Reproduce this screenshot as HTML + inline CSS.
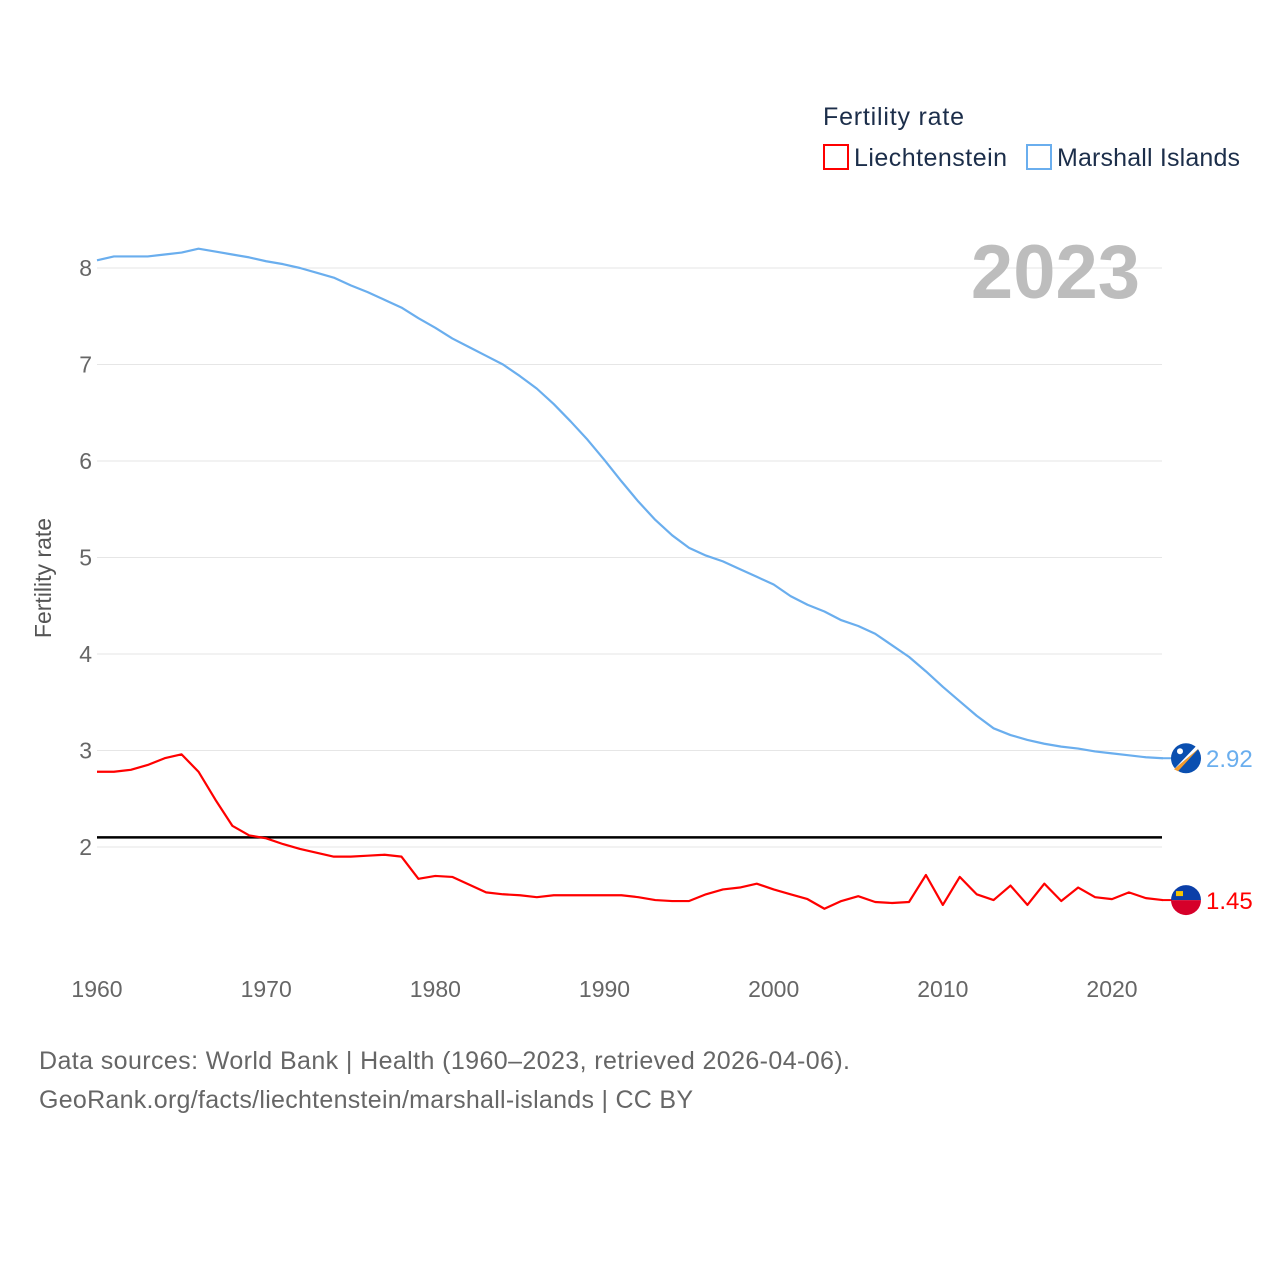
<!DOCTYPE html>
<html><head><meta charset="utf-8"><style>
body{margin:0;background:#fff;width:1280px;height:1280px;overflow:hidden;font-family:"Liberation Sans",sans-serif}
</style></head><body>
<svg id="chart" width="1280" height="1280" xmlns="http://www.w3.org/2000/svg">
<g id="grid"></g>
<g id="yticks"></g>
<g id="xticks"></g>
<text transform="translate(51,578) rotate(-90)" text-anchor="middle" font-size="23" fill="#555">Fertility rate</text>
<text x="1140" y="298" text-anchor="end" font-size="76" font-weight="bold" fill="#bdbdbd">2023</text>
<g>
<text x="823" y="125" font-size="25" fill="#1c2e4a" textLength="141">Fertility rate</text>
<rect x="824" y="145" width="24" height="24" fill="none" stroke="#f00" stroke-width="2"/>
<text x="854" y="166" font-size="25" fill="#1c2e4a" textLength="153">Liechtenstein</text>
<rect x="1027" y="145" width="24" height="24" fill="none" stroke="#6aaeee" stroke-width="2"/>
<text x="1057" y="166" font-size="25" fill="#1c2e4a" textLength="183">Marshall Islands</text>
</g>
<g id="series"></g>
<text x="39" y="1069" font-size="25" fill="#666" textLength="811">Data sources: World Bank | Health (1960–2023, retrieved 2026-04-06).</text>
<text x="39" y="1108" font-size="25" fill="#666" textLength="654">GeoRank.org/facts/liechtenstein/marshall-islands | CC BY</text>
</svg>
<script>
const years=[];for(let y=1960;y<=2023;y++)years.push(y);
const liechtenstein=[2.78,2.78,2.80,2.85,2.92,2.96,2.78,2.49,2.22,2.12,2.09,2.03,1.98,1.94,1.90,1.90,1.91,1.92,1.90,1.67,1.70,1.69,1.61,1.53,1.51,1.50,1.48,1.50,1.50,1.50,1.50,1.50,1.48,1.45,1.44,1.44,1.51,1.56,1.58,1.62,1.56,1.51,1.46,1.36,1.44,1.49,1.43,1.42,1.43,1.71,1.40,1.69,1.51,1.45,1.60,1.40,1.62,1.44,1.58,1.48,1.46,1.53,1.47,1.45];
const marshall=[8.08,8.12,8.12,8.12,8.14,8.16,8.20,8.17,8.14,8.11,8.07,8.04,8.00,7.95,7.90,7.82,7.75,7.67,7.59,7.48,7.38,7.27,7.18,7.09,7.00,6.88,6.75,6.59,6.41,6.22,6.01,5.79,5.58,5.39,5.23,5.10,5.02,4.96,4.88,4.80,4.72,4.60,4.51,4.44,4.35,4.29,4.21,4.09,3.97,3.82,3.66,3.51,3.36,3.23,3.16,3.11,3.07,3.04,3.02,2.99,2.97,2.95,2.93,2.92];
const yTicks=[2,3,4,5,6,7,8];
const xTicks=[1960,1970,1980,1990,2000,2010,2020];
const replacementRate=2.1;
const NS="http://www.w3.org/2000/svg";
const X=y=>97+(y-1960)*(1112-97)/60;
const Y=v=>847-(v-2)*96.5;
function mk(tag,attrs,parent){const e=document.createElementNS(NS,tag);for(const k in attrs)e.setAttribute(k,attrs[k]);parent.appendChild(e);return e;}
const grid=document.getElementById('grid'),yt=document.getElementById('yticks'),xt=document.getElementById('xticks'),ser=document.getElementById('series');
yTicks.forEach(v=>{
 const l=mk('line',{x1:97,x2:1162,y1:Y(v),y2:Y(v),stroke:'#e6e6e6','stroke-width':1},grid);
 
 
 const t=mk('text',{x:92,y:Y(v)+8,'text-anchor':'end','font-size':23,fill:'#666'},yt);t.textContent=v;
 
 
});
xTicks.forEach(v=>{
 const t=mk('text',{x:X(v),y:997,'text-anchor':'middle','font-size':23,fill:'#666'},xt);t.textContent=v;
 
 
});
const rl=mk('line',{x1:97,x2:1162,y1:Y(replacementRate),y2:Y(replacementRate),stroke:'#000','stroke-width':2.5},ser);


function line(vals,color,name){
 const p=mk('polyline',{points:vals.map((v,i)=>X(years[i])+','+Y(v)).join(' '),fill:'none',stroke:color,'stroke-width':2.2,'stroke-linejoin':'round'},ser);
 
 
}
line(marshall,'#6aaeee','line-marshall-islands');
line(liechtenstein,'#f00','line-liechtenstein');
function endLabel(vals,color,name,flag){
 const v=vals[vals.length-1],y=Y(v);
 const g=mk('g',{},ser);
 
 
 mk('line',{x1:1162,x2:1172,y1:y,y2:y,stroke:color,'stroke-width':2},g);
 if(flag==='mh'){
  mk('circle',{cx:1186,cy:y,r:15,fill:'#0a4fb0'},g);
  mk('polygon',{points:(1174)+','+(y+11)+' '+(1199)+','+(y-10)+' '+(1178)+','+(y+13),fill:'#f49a2a'},g);
  mk('polygon',{points:(1174)+','+(y+11)+' '+(1196)+','+(y-12)+' '+(1199)+','+(y-10),fill:'#fff'},g);
  mk('circle',{cx:1180,cy:y-7,r:3,fill:'#fff'},g);
 } else {
  mk('path',{d:`M1171,${y} a15,15 0 0 1 30,0 z`,fill:'#0b3fa8'},g);
  mk('path',{d:`M1171,${y} a15,15 0 0 0 30,0 z`,fill:'#d6002a'},g);
  mk('rect',{x:1176,y:y-9,width:7,height:5,fill:'#f5c400'},g);
 }
 const t=mk('text',{x:1206,y:y+9,'font-size':24,fill:color},g);t.textContent=v.toFixed(2);
}
endLabel(marshall,'#6aaeee','end-label-marshall-islands','mh');
endLabel(liechtenstein,'#f00','end-label-liechtenstein','li');
</script>
</body></html>
